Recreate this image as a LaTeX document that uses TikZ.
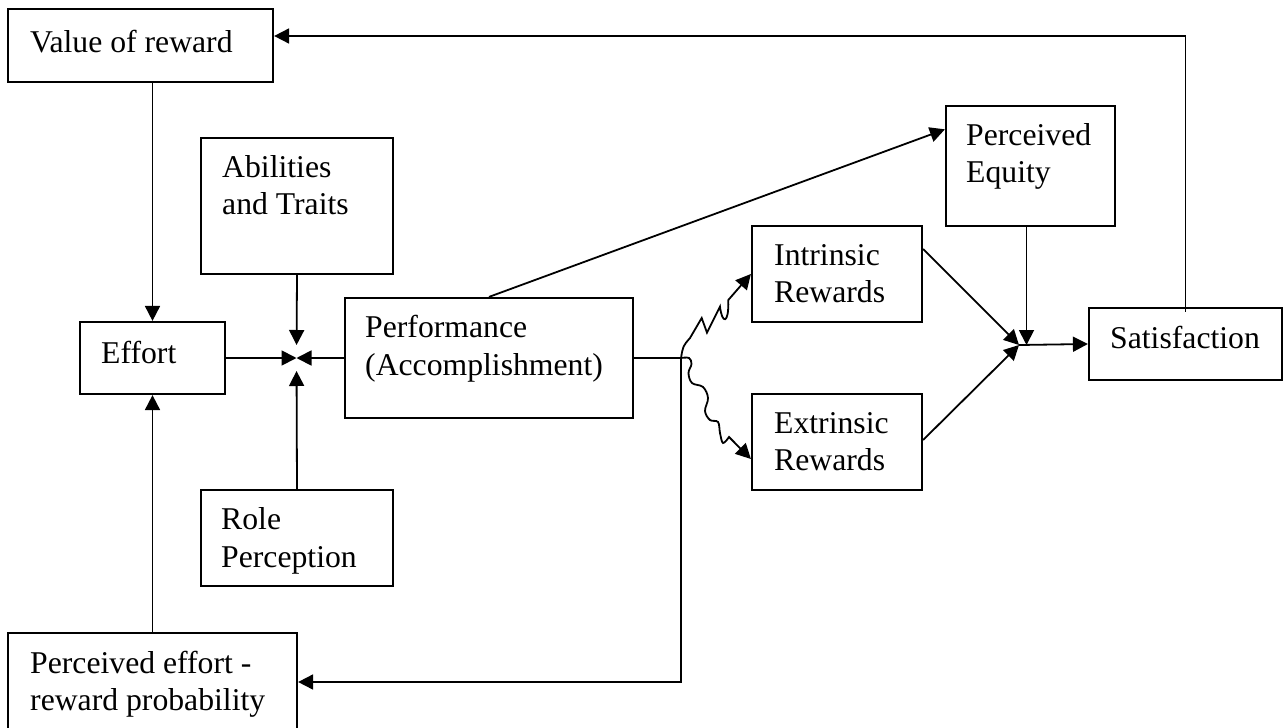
\documentclass[tikz,border=0pt]{standalone}
\usepackage{fontspec}
\setmainfont{Liberation Serif}
\usetikzlibrary{arrows.meta,calc}

\tikzset{
  box/.style={draw, line width=2.2pt, inner sep=0pt},
  lbl/.style={anchor=base west, inner sep=0pt, font=\fontsize{31.7}{37}\selectfont},
  link/.style={line width=1.8pt},
  arr/.style={link, -{Triangle[length=15pt,width=15pt]}},
}

% rectangle node given by its corners (left, top, right, bottom) in pixel units
\newcommand{\boxat}[5]{%
  \node[box, minimum width={(#4-#2)*1pt}, minimum height={(#5-#3)*1pt}]
    (#1) at ({(#2+#4)/2},{(#3+#5)/2}) {};}

\begin{document}
\begin{tikzpicture}[x=1pt, y=-1pt]
\useasboundingbox (0,0) rectangle (1285,728);

% ---- boxes ----
\boxat{val}{8}{9}{273}{82}
\boxat{abil}{201}{138}{393}{274}
\boxat{effort}{80}{322}{225}{394}
\boxat{perf}{345}{298}{633}{418}
\boxat{role}{201}{490}{393}{586}
\boxat{peff}{8}{633}{297}{748}
\boxat{equity}{946}{106}{1115}{226}
\boxat{intr}{752}{226}{922}{322}
\boxat{extr}{752}{394}{922}{490}
\boxat{sat}{1089}{308}{1282}{380}

% ---- labels ----
\node[lbl] (val-t) at (30,52) {Value of reward};
\node[lbl] (abil-t1) at (222,177) {Abilities};
\node[lbl] (abil-t2) at (222,214) {and Traits};
\node[lbl] (effort-t) at (101,363) {Effort};
\node[lbl] (perf-t1) at (365,337) {Performance};
\node[lbl] (perf-t2) at (365,375) {(Accomplishment)};
\node[lbl] (role-t1) at (221,529) {Role};
\node[lbl] (role-t2) at (221,567) {Perception};
\node[lbl] (peff-t1) at (30,673) {Perceived effort -};
\node[lbl] (peff-t2) at (30,710) {reward probability};
\node[lbl] (equity-t1) at (966,145) {Perceived};
\node[lbl] (equity-t2) at (966,182) {Equity};
\node[lbl] (intr-t1) at (774,265) {Intrinsic};
\node[lbl] (intr-t2) at (774,302) {Rewards};
\node[lbl] (extr-t1) at (774,433) {Extrinsic};
\node[lbl] (extr-t2) at (774,470) {Rewards};
\node[lbl] (sat-t) at (1110,348) {Satisfaction};

% ---- junction and bend points ----
\coordinate (jperf) at (296.5,358);
\coordinate (jsat) at (1019,345);
\coordinate (split) at (681,358);
\coordinate (fb) at (681,682);
\coordinate (top) at (1185.5,36);

% ---- connectors ----
\draw[arr] (val.south -| effort.north) -- (effort.north);
\draw[arr] (peff.north -| effort.south) -- (effort.south);
\draw[arr] (effort.east) -- (jperf);
\draw[arr] (perf.west) -- (jperf);
\draw[arr, shorten >=13pt] (abil.south) -- (jperf);
\draw[arr, shorten >=13pt] (role.north) -- (jperf);

\draw[arr] (perf.north) -- ($(equity.north west)!0.2!(equity.south west)$);
\draw[link] (perf.east) -- (split);
\draw[arr] (split) -- (fb) -- (fb -| peff.east);

% rewards reached along wavy paths
\draw[arr] (split) .. controls (683,346) .. (690,338) -- (701.7,318)
  -- (707,332.7) -- (720,306.7) .. controls (722,324) and (729,325) .. (728.3,300)
  -- (intr.west);
\draw[arr] plot[smooth, tension=0.6] coordinates {(split) (689,358) (691.5,364)
  (688.5,373) (692,383) (703,387) (708,398) (705,411) (710,420) (718,422)
  (720,433) (723,443) (729,437)} -- ($(extr.west)+(0,17)$);

\draw[arr] ($(intr.north east)+(0,24)$) -- (jsat);
\draw[arr] ($(extr.east)+(0,-2)$) -- (jsat);
\draw[arr] ([xshift=-4pt]equity.south) -- ([xshift=-4pt]equity.south |- jsat);
\draw[arr] (jsat) -- (sat.west);

\draw[arr] ([yshift=-5pt]sat.north) -- (top) -- (top -| val.east);
\end{tikzpicture}
\end{document}
